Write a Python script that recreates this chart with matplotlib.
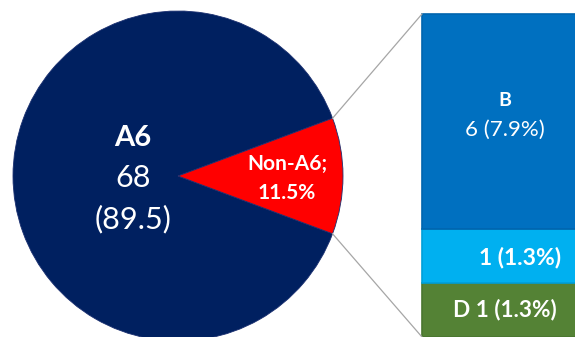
import numpy as np
import matplotlib
matplotlib.use("Agg")
import matplotlib.pyplot as plt

# ---- data ----
pie_labels = ["A6", "Non-A6"]
pie_counts = [68, None]
pie_percent = [89.5, 11.5]
pie_colors = ["#002060", "#FF0000"]

bar_labels = ["D", "C", "B"]          # bottom -> top
bar_counts = [1, 1, 6]
bar_percent = [1.3, 1.3, 7.9]
bar_sizes = [1.0, 1.0, 4.0]           # segment heights as drawn in the picture
bar_colors = ["#548235", "#00B0F0", "#0070C0"]
bar_edges = ["#4A7530", "#009FD8", "#0065AE"]

plt.rcParams['font.family'] = ['Lato', 'DejaVu Sans']

W, H = 575, 337
fig = plt.figure(figsize=(W / 100, H / 100), dpi=100)
ax = fig.add_axes([0, 0, 1, 1])

# pie
cx, cy, r = 178, H - 176, 165
frac_non = pie_percent[1] / sum(pie_percent)
start = frac_non * 360 / 2
wedges, _ = ax.pie(pie_percent, colors=pie_colors, startangle=start,
                   center=(cx, cy), radius=r, frame=True,
                   wedgeprops=dict(edgecolor="#1a2f70", linewidth=0.6))

# bar
bx, bw = 505, 166
top_px, bot_px = 14, 337
total_h = bot_px - top_px
scale = total_h / sum(bar_sizes)
heights = [s * scale for s in bar_sizes]
bottoms = np.concatenate([[0], np.cumsum(heights)[:-1]])
ax.bar([bx] * 3, heights, width=bw, bottom=bottoms, color=bar_colors,
       edgecolor=bar_edges, linewidth=1.2)

# connector lines
a1 = np.deg2rad(start)
a2 = np.deg2rad(-start)
p1 = (cx + r * np.cos(a1), cy + r * np.sin(a1))
p2 = (cx + r * np.cos(a2), cy + r * np.sin(a2))
bar_left = bx - bw / 2
ax.plot([p1[0], bar_left], [p1[1], H - top_px], color="#A6A6A6", lw=0.9)
ax.plot([p2[0], bar_left], [p2[1], 0], color="#A6A6A6", lw=0.9)

# pie texts
tx = 133
ax.text(tx, H - 138, pie_labels[0], color="white", fontsize=21, fontweight="bold",
        ha="center", va="center")
ax.text(tx, H - 178, f"{pie_counts[0]}", color="white", fontsize=22,
        ha="center", va="center")
ax.text(tx, H - 219, f"({pie_percent[0]})", color="white", fontsize=22,
        ha="center", va="center")
ax.text(287, H - 164, f"{pie_labels[1]};", color="white", fontsize=15,
        fontweight="bold", ha="center", va="center")
ax.text(287, H - 193, f"{pie_percent[1]}%", color="white", fontsize=15,
        fontweight="bold", ha="center", va="center")

# bar texts
ax.text(bx, H - 100, bar_labels[2], color="white", fontsize=14,
        fontweight="bold", ha="center", va="center")
ax.text(bx, H - 130, f"{bar_counts[2]} ({bar_percent[2]}%)", color="white",
        fontsize=16, ha="center", va="center")
ax.text(520, H - 258, f"{bar_counts[1]} ({bar_percent[1]}%)", color="white",
        fontsize=16.5, fontweight="bold", ha="center", va="center")
ax.text(bx, H - 310, f"{bar_labels[0]} {bar_counts[0]} ({bar_percent[0]}%)",
        color="white", fontsize=16.3, fontweight="bold", ha="center", va="center")

ax.set_xlim(0, W)
ax.set_ylim(0, H)
ax.set_aspect("auto")
ax.axis("off")
fig.savefig("out.png", dpi=100, facecolor="white")
